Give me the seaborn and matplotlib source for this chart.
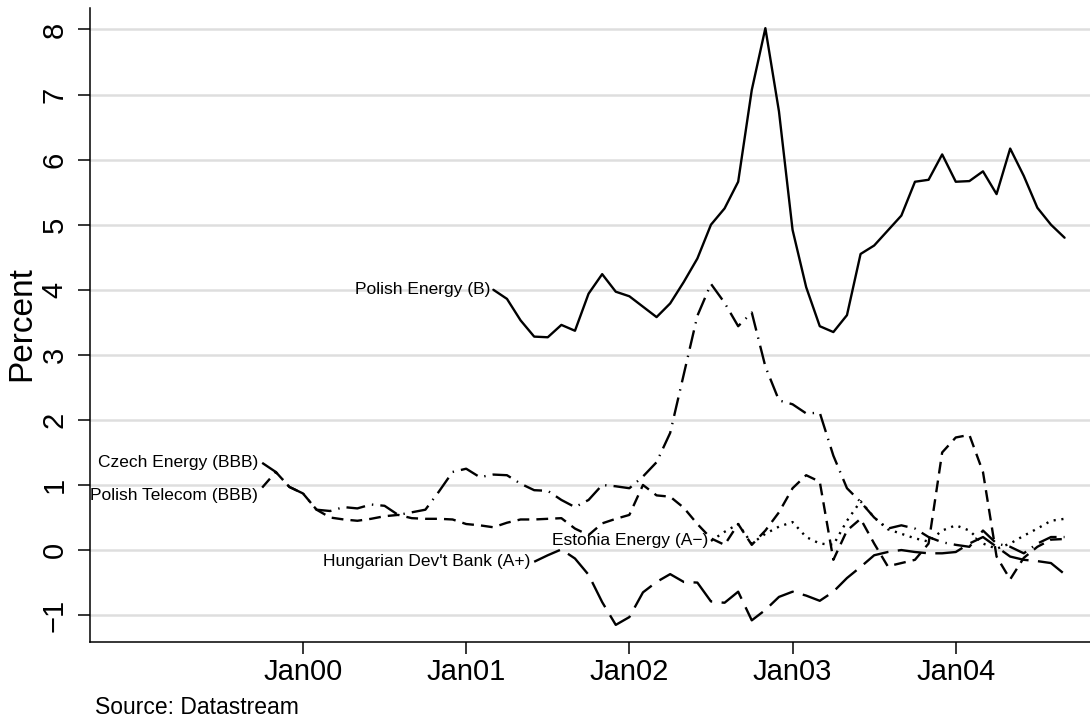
"""Spreads on Central/Eastern European bonds, monthly, Stata-like look."""

import matplotlib

matplotlib.use("Agg")
import matplotlib.pyplot as plt
import pandas as pd
import seaborn as sns

# month index: 0 = Jan 2000
polish_energy_start = 14
polish_energy = [4.00, 3.86, 3.53, 3.28, 3.27, 3.46, 3.37, 3.94, 4.24, 3.97,
                 3.90, 3.74, 3.58, 3.79, 4.12, 4.48, 5.00, 5.25, 5.66, 7.07,
                 8.02, 6.74, 4.92, 4.04, 3.44, 3.35, 3.61, 4.55, 4.68, 4.91,
                 5.14, 5.66, 5.69, 6.08, 5.66, 5.67, 5.82, 5.47, 6.17, 5.75,
                 5.26, 5.00, 4.80]

czech_energy_start = -3
czech_energy = [1.34, 1.20, 0.97, 0.87, 0.62, 0.60, 0.66, 0.64, 0.70, 0.68,
                0.54, 0.58, 0.62, 0.90, 1.20, 1.25, 1.12, 1.16, 1.15, 1.02,
                0.92, 0.91, 0.77, 0.66, 0.77, 1.00, 0.98, 0.95, 1.13, 1.35,
                1.80, 2.70, 3.60, 4.09, 3.80, 3.44, 3.65, 2.82, 2.30, 2.24,
                2.10, 2.11, 1.45, 0.95, 0.74, 0.50, 0.33, 0.38, 0.33, 0.20,
                0.12, 0.08, 0.05, 0.30, 0.10, 0.05, -0.05, 0.10, 0.20, 0.20]

polish_telecom_start = -3
polish_telecom = [0.96, 1.20, 0.97, 0.87, 0.62, 0.50, 0.47, 0.45, 0.48, 0.52,
                  0.54, 0.49, 0.48, 0.48, 0.47, 0.40, 0.38, 0.35, 0.42, 0.47,
                  0.47, 0.48, 0.49, 0.33, 0.23, 0.41, 0.48, 0.54, 1.00, 0.84,
                  0.82, 0.65, 0.40, 0.18, 0.08, 0.40, 0.08, 0.30, 0.58, 0.95,
                  1.15, 1.05, -0.15, 0.30, 0.48, 0.10, -0.25, -0.20, -0.15, 0.10,
                  1.50, 1.73, 1.77, 1.20, -0.10, -0.45, -0.12, 0.05, 0.16, 0.17]

hungarian_bank_start = 17
hungarian_bank = [-0.18, -0.08, 0.01, -0.13, -0.38, -0.80, -1.15, -1.03, -0.65, -0.49,
                  -0.37, -0.49, -0.50, -0.79, -0.81, -0.64, -1.08, -0.92, -0.72, -0.64,
                  -0.70, -0.78, -0.64, -0.43, -0.26, -0.08, -0.03, 0.00, -0.03, -0.05,
                  -0.05, -0.03, 0.10, 0.20, 0.05, -0.10, -0.15, -0.17, -0.20, -0.37]

estonia_energy_start = 30
estonia_energy = [0.14, 0.28, 0.40, 0.10, 0.25, 0.36, 0.43, 0.20, 0.10, 0.08,
                  0.45, 0.75, 0.50, 0.32, 0.25, 0.18, 0.13, 0.30, 0.38, 0.30,
                  0.10, 0.02, 0.10, 0.22, 0.33, 0.45, 0.48]

series_names = ["Polish Energy (B)", "Czech Energy (BBB)", "Polish Telecom (BBB)",
                "Hungarian Dev't Bank (A+)", "Estonia Energy (A\u2212)"]
tick_months = [0, 12, 24, 36, 48]
tick_labels = ["Jan00", "Jan01", "Jan02", "Jan03", "Jan04"]
y_ticks = [-1, 0, 1, 2, 3, 4, 5, 6, 7, 8]

LINE_STYLES = {
    "Polish Energy (B)": "",
    "Czech Energy (BBB)": (8, 3, 0.6, 3),
    "Polish Telecom (BBB)": (5, 3),
    "Hungarian Dev't Bank (A+)": (12, 4),
    "Estonia Energy (A\u2212)": (0.9, 2.4),
}
# label offsets in points (dx, dy) from first observation
LABEL_OFFSETS = {
    "Polish Energy (B)": (-2, 0),
    "Czech Energy (BBB)": (-3, 0),
    "Polish Telecom (BBB)": (-3, -6),
    "Hungarian Dev't Bank (A+)": (-3, 0),
    "Estonia Energy (A\u2212)": (-2, 0),
}


def build_frame() -> pd.DataFrame:
    parts = []
    for name, start, values in zip(
        series_names,
        [polish_energy_start, czech_energy_start, polish_telecom_start,
         hungarian_bank_start, estonia_energy_start],
        [polish_energy, czech_energy, polish_telecom, hungarian_bank, estonia_energy],
    ):
        parts.append(pd.DataFrame({
            "series": name,
            "month": range(start, start + len(values)),
            "spread": values,
        }))
    return pd.concat(parts, ignore_index=True)


df = build_frame()

sns.set_theme(style="white")
plt.rcParams["font.family"] = ["Liberation Sans", "DejaVu Sans"]
plt.rcParams["text.color"] = "black"
plt.rcParams["axes.labelcolor"] = "black"

fig = plt.figure(figsize=(10.9, 7.17), dpi=100)
ax = fig.add_axes([90 / 1090, 75 / 717, 1000 / 1090, 634 / 717])

sns.lineplot(
    data=df, x="month", y="spread", style="series", style_order=series_names,
    dashes=LINE_STYLES, color="black", linewidth=1.7, estimator=None,
    legend=False, ax=ax,
)

for name in series_names:
    first = df[df["series"] == name].iloc[0]
    ax.annotate(name, (first["month"], first["spread"]),
                xytext=LABEL_OFFSETS[name], textcoords="offset points",
                ha="right", va="center", fontsize=12.5, color="black")

ax.set_xlim(-15.66, 57.87)
ax.set_ylim(-1.413, 8.33)
ax.set_xticks(tick_months)
ax.set_xticklabels(tick_labels)
ax.set_yticks(y_ticks)
ax.set_yticklabels([str(v).replace("-", "\u2212") for v in y_ticks],
                   rotation=90, va="center")
ax.tick_params(axis="both", direction="out", length=8.5, width=1.1,
               colors="black", labelsize=21, left=True, bottom=True)
ax.tick_params(axis="y", pad=7)
ax.tick_params(axis="x", pad=3)

ax.yaxis.grid(True, color="#dedede", linewidth=1.8)
ax.xaxis.grid(False)
ax.set_axisbelow(True)
sns.despine(ax=ax, top=True, right=True)
for side in ["left", "bottom"]:
    ax.spines[side].set_color("black")
    ax.spines[side].set_linewidth(1.1)

ax.set_xlabel("")
ax.set_ylabel("Percent", fontsize=24, va="center", color="black")
ax.yaxis.set_label_coords(-0.068, 0.503)

fig.text(95 / 1090, 1 - 707 / 717, "Source: Datastream", fontsize=16.5,
         ha="left", va="center", color="black")

fig.savefig("out.png", dpi=100, facecolor="white")
plt.close(fig)
